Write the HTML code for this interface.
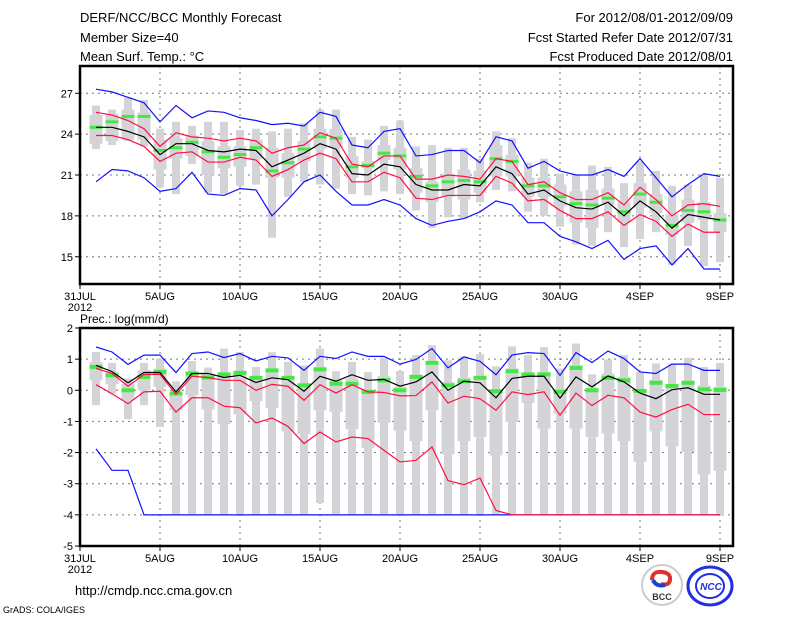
<!DOCTYPE html>
<html><head><meta charset="utf-8"><style>
body{margin:0;background:#fff}
svg text{font-family:"Liberation Sans",sans-serif}
</style></head><body>
<svg id="c" width="800" height="618" xmlns="http://www.w3.org/2000/svg">
<text x="80" y="22" font-size="13">DERF/NCC/BCC Monthly Forecast</text>
<text x="80" y="42" font-size="13">Member Size=40</text>
<text x="80" y="61" font-size="13">Mean Surf. Temp.: °C</text>
<text x="733" y="22" font-size="13" text-anchor="end">For 2012/08/01-2012/09/09</text>
<text x="733" y="42" font-size="13" text-anchor="end">Fcst Started Refer Date 2012/07/31</text>
<text x="733" y="61" font-size="13" text-anchor="end">Fcst Produced Date 2012/08/01</text>
<text x="80" y="323" font-size="12">Prec.: log(mm/d)</text>
<text x="75" y="595" font-size="13">http://cmdp.ncc.cma.gov.cn</text>
<text x="3" y="613" font-size="9">GrADS: COLA/IGES</text>
<g>
<circle cx="662" cy="585" r="20" fill="#fff" stroke="#ccc" stroke-width="2"/>
<path d="M652 580 q0 -9 10 -8 q9 1 8 8 q-1 6 -9 4" fill="none" stroke="#e03030" stroke-width="4"/>
<path d="M653 580 q3 7 12 5" fill="none" stroke="#2040d0" stroke-width="4"/>
<text x="662" y="600" font-size="9" font-weight="bold" text-anchor="middle" fill="#333">BCC</text>
</g>
<g>
<ellipse cx="710" cy="586" rx="22" ry="19" fill="#fff" stroke="#2030e0" stroke-width="3"/>
<ellipse cx="710" cy="586" rx="14" ry="12" fill="none" stroke="#2030e0" stroke-width="2"/>
<text x="711" y="590" font-size="10" font-weight="bold" font-style="italic" text-anchor="middle" fill="#2030e0">NCC</text>
</g>
</svg>
<script>
// ---- Temperature panel data (days 1..40) ----
const tMean=[24.5,24.5,24.2,23.8,22.5,23.3,23.3,22.8,22.7,22.9,22.8,21.6,22.1,22.6,23.3,22.9,21.1,21.0,21.8,21.6,20.3,19.9,19.9,20.3,20.2,21.6,21.1,19.6,19.9,19.1,18.6,18.5,19.0,18.0,19.1,18.3,17.1,18.1,17.9,17.7];
const tRedHi=[25.6,25.4,25.0,24.4,23.1,24.1,23.8,23.7,23.5,23.7,23.5,22.6,23.0,23.2,24.1,23.7,21.8,21.6,22.4,22.4,20.7,20.7,21.0,20.9,20.7,22.2,22.0,20.3,20.5,19.7,19.2,19.2,19.7,18.8,20.1,19.2,18.0,18.8,18.9,18.7];
const tRedLo=[23.9,23.9,23.6,23.1,22.0,22.6,22.7,21.95,21.95,22.3,22.1,20.9,21.4,22.1,22.6,22.2,20.5,20.5,21.2,20.8,19.3,19.2,19.5,19.5,19.5,20.9,20.4,19.1,19.2,18.4,17.8,17.8,18.3,17.3,18.1,17.6,16.5,17.4,16.8,16.8];
const tBlueHi=[27.3,27.1,26.7,26.3,24.9,26.1,25.2,25.7,25.6,25.2,25.0,24.7,24.8,24.6,25.6,25.3,23.2,23.0,24.2,24.4,22.4,22.5,22.8,22.8,21.9,23.8,23.5,21.5,22.0,21.3,21.0,21.0,21.4,20.9,22.2,20.8,19.4,20.3,21.1,20.9];
const tBlueLo=[20.5,21.4,21.3,20.8,19.8,20.0,21.2,19.6,19.5,20.0,19.9,18.0,19.2,20.5,21.0,19.8,18.8,18.8,19.2,18.8,17.8,17.3,17.6,17.8,18.3,19.1,18.8,17.5,17.5,16.5,16.1,15.6,16.2,14.8,15.6,15.8,14.4,15.6,14.1,14.1];
const tObs=[24.5,24.9,25.3,25.3,22.8,23.0,23.4,22.7,22.3,22.5,23.0,21.3,21.9,22.9,23.8,23.7,21.6,21.7,22.6,22.4,20.9,20.2,20.5,20.6,20.5,22.2,22.0,20.2,20.2,19.4,18.9,18.8,19.3,18.3,19.6,19.0,17.3,18.4,18.3,17.7];
const tMax=[26.1,25.8,26.7,26.5,24.4,24.9,24.6,24.9,24.9,24.3,24.4,24.2,24.4,24.8,25.8,25.8,23.8,23.6,24.6,25.0,23.1,23.2,23.0,23.0,22.2,24.2,23.7,21.9,22.2,21.1,21.0,21.7,21.6,20.4,22.0,21.3,20.2,20.3,21.0,20.8];
const tMin=[22.9,23.2,23.5,23.1,20.1,19.6,21.8,19.7,19.6,20.2,20.3,16.4,19.4,20.5,20.3,20.0,19.6,19.5,19.8,19.6,18.4,17.1,17.9,17.8,19.0,19.9,19.8,18.3,18.0,17.2,15.9,15.8,16.8,15.7,16.3,16.8,14.4,15.8,14.3,14.6];
const tQ3=[25.4,25.5,25.8,25.6,23.6,23.7,23.9,23.5,23.1,23.1,23.6,23.0,22.6,23.5,24.4,24.4,22.4,22.0,23.2,23.0,21.5,20.5,21.1,21.4,21.3,23.2,22.5,20.8,20.8,20.3,19.8,19.9,20.0,19.0,20.4,19.6,18.1,19.2,19.0,18.2];
const tQ1=[23.3,23.5,23.6,23.6,21.4,22.2,22.4,21.0,21.5,21.6,22.2,20.8,20.8,22.0,22.9,23.0,20.8,21.5,22.1,21.4,19.7,19.0,19.4,19.2,19.7,20.9,20.9,19.4,19.4,18.7,17.5,17.1,18.8,17.5,18.6,18.2,16.6,17.5,17.7,16.8];
const tTicks=[15,18,21,24,27];
// ---- Precipitation panel data ----
const pMean=[0.8,0.6,0.24,0.57,0.57,-0.05,0.54,0.54,0.41,0.48,0.25,0.4,0.34,-0.03,0.45,0.29,0.5,0.32,0.35,0.13,0.27,0.59,0,0.29,0.24,-0.24,0.38,0.45,0.45,-0.25,0.43,0.11,0.46,0.27,-0.09,-0.27,0.02,0.08,-0.13,-0.13];
const pRedHi=[0.7,0.54,0.13,0.51,0.51,-0.13,0.45,0.41,0.32,0.32,0,0.19,0.13,-0.32,0.18,-0.09,0.18,-0.05,-0.07,-0.18,-0.17,0.27,-0.41,-0.19,-0.27,-0.64,-0.05,-0.14,-0.05,-0.8,-0.09,-0.49,-0.16,-0.24,-0.7,-0.86,-0.62,-0.45,-0.78,-0.78];
const pRedLo=[0.18,-0.11,-0.43,-0.05,-0.03,-0.7,-0.24,-0.24,-0.51,-0.56,-1.05,-0.89,-1.16,-1.71,-1.34,-1.66,-1.5,-1.55,-1.93,-2.3,-2.25,-1.82,-2.9,-3.03,-2.82,-3.86,-4,-4,-4,-4,-4,-4,-4,-4,-4,-4,-4,-4,-4,-4];
const pBlueHi=[1.39,1.23,0.83,1.13,1.13,0.57,1.18,1.23,1.05,1.18,0.94,1.09,1.04,0.64,1.09,1.02,1.23,1.09,1.09,0.84,0.99,1.34,0.72,1.07,0.93,0.5,1.13,1.21,1.18,0.48,1.21,0.89,1.26,1.02,0.59,0.54,0.84,0.84,0.64,0.64];
const pBlueLo=[-1.88,-2.57,-2.57,-4,-4,-4,-4,-4,-4,-4,-4,-4,-4,-4,-4,-4,-4,-4,-4,-4,-4,-4,-4,-4,-4,-4,-4,-4,-4,-4,-4,-4,-4,-4,-4,-4,-4,-4,-4,-4];
const pObs=[0.75,0.48,0,0.43,0.59,-0.1,0.54,0.41,0.51,0.56,0.4,0.64,0.4,0.16,0.67,0.21,0.21,-0.05,0.32,0,0.43,0.88,0.16,0.29,0.4,-0.03,0.61,0.51,0.51,-0.05,0.72,0,0.4,0.32,-0.02,0.24,0.14,0.24,0.03,0.01];
const pMax=[1.23,0.88,0.38,0.88,1.02,0.29,0.94,0.73,1.34,1.23,0.75,1.22,0.91,0.8,1.34,0.61,0.91,0.59,1.05,0.62,1.13,1.45,0.96,1.09,1.16,0.77,1.41,1.13,1.39,0.7,1.5,0.51,0.99,1.13,0.59,0.86,0.86,1.04,0.75,0.88];
const pMin=[-0.48,-0.11,-0.93,-0.48,-1.18,-4,-4,-4,-4,-4,-4,-4,-4,-4,-3.62,-4,-4,-4,-4,-4,-4,-4,-4,-4,-4,-4,-4,-4,-4,-4,-4,-4,-4,-4,-4,-4,-4,-4,-4,-4];
const pQ3=[0.91,0.6,0.21,0.65,0.7,-0.05,0.54,0.54,0.54,0.59,0.32,0.64,0.43,0.16,0.75,0.32,0.38,0,0.45,0.11,0.43,0.91,0.27,0.41,0.45,0,0.7,0.54,0.59,0.05,0.8,0.08,0.54,0.43,-0.05,0.34,0.16,0.32,0.16,0.11];
const pQ1=[0.32,0.2,-0.32,0,0.11,-0.64,-0.16,-0.62,-1.09,-0.77,-0.35,-0.57,-1.32,-1.41,-0.64,-0.7,-1.25,-1.85,-1.05,-1.29,-1.63,-0.64,-2.06,-1.63,-1.5,-2.09,-1.02,-0.41,-1.23,-0.75,-1.23,-1.5,-1.39,-1.63,-2.3,-1.32,-1.8,-1.98,-2.7,-2.59];
const pTicks=[-5,-4,-3,-2,-1,0,1,2];
const xTickDays=[0,5,10,15,20,25,30,35,40];
const xTickLabels=["31JUL","5AUG","10AUG","15AUG","20AUG","25AUG","30AUG","4SEP","9SEP"];

const svg=document.getElementById('c');
const NS='http://www.w3.org/2000/svg';
function mk(tag,attrs,parent){const e=document.createElementNS(NS,tag);for(const k in attrs)e.setAttribute(k,attrs[k]);(parent||svg).appendChild(e);return e;}
const X0=80,DX=16,XR=733;
function xs(d){return X0+d*DX;}

function panel(name,top,bot,ymin,ymax,ticks,s){
  const ys=v=>bot-(v-ymin)/(ymax-ymin)*(bot-top);
  const g=mk('g',{});
  
  
  // grid
  xTickDays.forEach((d,i)=>{
    if(d>0){const l=mk('line',{x1:xs(d),x2:xs(d),y1:top,y2:bot,stroke:'#777','stroke-dasharray':'2,4','stroke-width':1},g);
    }
    const tk=mk('line',{x1:xs(d),x2:xs(d),y1:bot,y2:bot+5,stroke:'#000'},g);
    
    const t=mk('text',{x:xs(d),y:bot+16,'font-size':11,'text-anchor':'middle'},g);
    
    t.textContent=xTickLabels[i];
  });
  const yr=mk('text',{x:xs(0),y:bot+27,'font-size':11,'text-anchor':'middle'},g);
  
  yr.textContent='2012';
  ticks.forEach(v=>{
    const y=ys(v);
    if(y>top+1&&y<bot-1){const l=mk('line',{x1:X0,x2:XR,y1:y,y2:y,stroke:'#777','stroke-dasharray':'2,4'},g);
    }
    const tk=mk('line',{x1:X0-5,x2:X0,y1:y,y2:y,stroke:'#000'},g);
    
    const t=mk('text',{x:X0-7,y:y+4,'font-size':11,'text-anchor':'end'},g);
    
    t.textContent=v;
  });
  // boxes
  for(let i=0;i<s.max.length;i++){
    const d=i+1,x=xs(d);
    const w=mk('rect',{x:x-4,width:8,y:ys(s.max[i]),height:ys(s.min[i])-ys(s.max[i]),fill:'#d4d4d8'},g);
    
    const b=mk('rect',{x:x-6.5,width:13,y:ys(s.q3[i]),height:Math.max(1,ys(s.q1[i])-ys(s.q3[i])),fill:'#d4d4d8'},g);
    
  }
  // green obs
  s.obs.forEach((v,i)=>{
    const r=mk('rect',{x:xs(i+1)-6.5,width:13,y:ys(v)-s.gh/2,height:s.gh,fill:'#44e844'},g);
    
  });
  const line=(arr,col,nm)=>{
    const p=mk('polyline',{points:arr.map((v,i)=>xs(i+1)+','+ys(v)).join(' '),fill:'none',stroke:col,'stroke-width':1.2},g);
    
  };
  line(s.bhi,'#1010ff','blue-upper-line');line(s.blo,'#1010ff','blue-lower-line');
  line(s.rhi,'#ff1040','red-upper-line');line(s.rlo,'#ff1040','red-lower-line');
  line(s.mean,'#000','ensemble-mean-line');
  const f=mk('rect',{x:X0,y:top,width:XR-X0,height:bot-top,fill:'none',stroke:'#000','stroke-width':2.5},g);
  
}
panel('temperature-panel',66,284,13,29,tTicks,{max:tMax,min:tMin,q3:tQ3,q1:tQ1,obs:tObs,mean:tMean,rhi:tRedHi,rlo:tRedLo,bhi:tBlueHi,blo:tBlueLo,gh:3});
panel('precipitation-panel',328,546,-5,2,pTicks,{max:pMax,min:pMin,q3:pQ3,q1:pQ1,obs:pObs,mean:pMean,rhi:pRedHi,rlo:pRedLo,bhi:pBlueHi,blo:pBlueLo,gh:4});
</script>
</body></html>
